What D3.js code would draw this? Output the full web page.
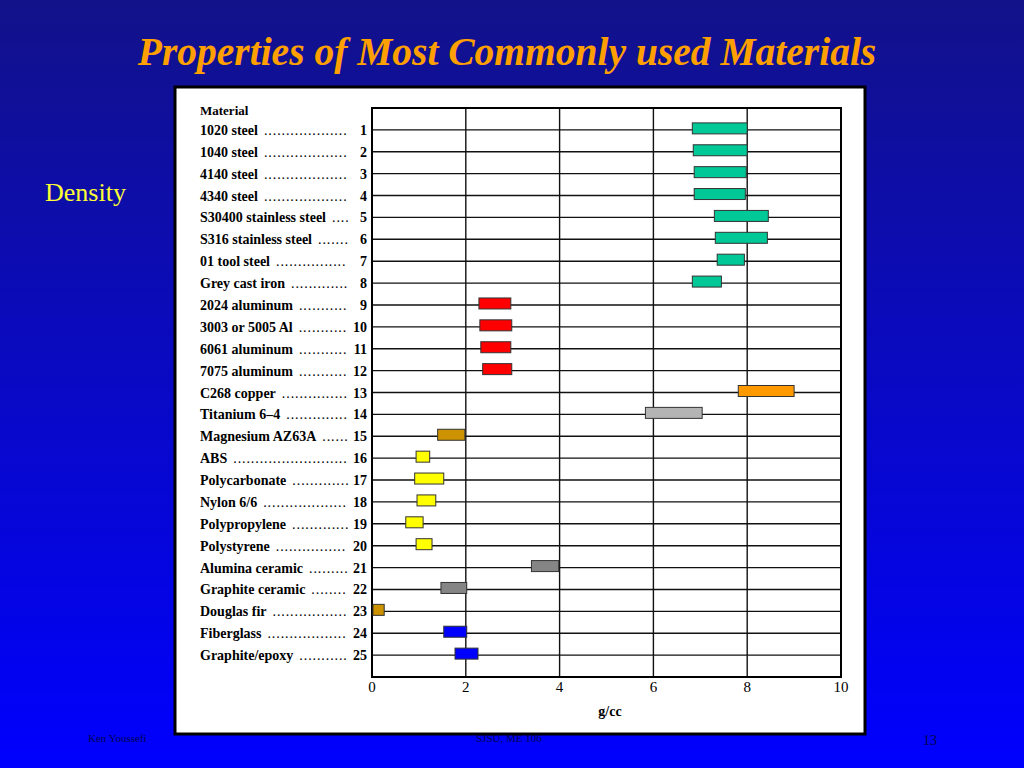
<!DOCTYPE html>
<meta charset="utf-8">
<script src="https://d3js.org/d3.v7.min.js"></script>
<style>
  body { margin: 0; }
  svg { display: block; }
</style>
<div id="my_dataviz"></div>
<script>

  // materials, in chart order (row 1 at the top)
  const materials = [
    "1020 steel", "1040 steel", "4140 steel", "4340 steel",
    "S30400 stainless steel", "S316 stainless steel", "01 tool steel", "Grey cast iron",
    "2024 aluminum", "3003 or 5005 Al", "6061 aluminum", "7075 aluminum",
    "C268 copper", "Titanium 6\u20134", "Magnesium AZ63A", "ABS",
    "Polycarbonate", "Nylon 6/6", "Polypropylene", "Polystyrene",
    "Alumina ceramic", "Graphite ceramic", "Douglas fir", "Fiberglass", "Graphite/epoxy"
  ];
  // density range, g/cc
  const densityLow = [6.83, 6.85, 6.87, 6.87, 7.30, 7.32, 7.36, 6.83,
    2.28, 2.30, 2.32, 2.36, 7.81, 5.83, 1.40, 0.94,
    0.91, 0.96, 0.72, 0.94, 3.40, 1.47, 0.02, 1.53, 1.77];
  const densityHigh = [8.00, 8.00, 7.98, 7.96, 8.45, 8.43, 7.94, 7.45,
    2.96, 2.98, 2.96, 2.98, 9.00, 7.04, 1.98, 1.23,
    1.53, 1.36, 1.09, 1.28, 3.98, 2.02, 0.26, 2.02, 2.26];
  // material family per row
  const family = ["steel", "steel", "steel", "steel", "steel", "steel", "steel", "steel",
    "aluminum", "aluminum", "aluminum", "aluminum", "copper", "titanium", "magnesium", "polymer",
    "polymer", "polymer", "polymer", "polymer", "ceramic", "ceramic", "wood", "composite", "composite"];
  const xTicks = [0, 2, 4, 6, 8, 10];

  const familyColor = {
    steel: "#00c896", aluminum: "#ff0000", copper: "#ff9900", titanium: "#b4b4b4",
    magnesium: "#cc9200", polymer: "#ffff00", ceramic: "#858585", wood: "#cc9200", composite: "#0000ff"
  };

  const W = 1024, H = 768;
  const svg = d3.select("#my_dataviz").append("svg")
    .attr("width", W).attr("height", H);

  // slide background
  const grad = svg.append("defs").append("linearGradient")
    .attr("id", "bg").attr("x1", 0).attr("y1", 0).attr("x2", 0).attr("y2", 1);
  grad.append("stop").attr("offset", "0%").attr("stop-color", "#12128a");
  grad.append("stop").attr("offset", "100%").attr("stop-color", "#0000ff");
  svg.append("rect").attr("width", W).attr("height", H).attr("fill", "url(#bg)");

  svg.append("text")
    .attr("x", 507).attr("y", 65)
    .attr("text-anchor", "middle")
    .attr("font-family", "Liberation Serif, Times New Roman, serif")
    .attr("font-size", 39.5).attr("font-weight", "bold").attr("font-style", "italic")
    .attr("fill", "#ffa000")
    .text("Properties of Most Commonly used Materials");

  svg.append("text")
    .attr("x", 45).attr("y", 201)
    .attr("font-family", "Liberation Serif, Times New Roman, serif")
    .attr("font-size", 26).attr("fill", "#ffff33")
    .text("Density");

  // footer
  const foot = svg.append("g")
    .attr("font-family", "Liberation Serif, Times New Roman, serif")
    .attr("font-size", 11).attr("fill", "#000050");
  foot.append("text").attr("x", 88).attr("y", 742).text("Ken Youssefi");
  foot.append("text").attr("x", 476).attr("y", 742).text("SJSU, ME 106");
  foot.append("text").attr("x", 923).attr("y", 745).attr("font-size", 14).text("13");

  // white picture box
  svg.append("rect")
    .attr("x", 175).attr("y", 87).attr("width", 690).attr("height", 647)
    .attr("fill", "#fff").attr("stroke", "#000").attr("stroke-width", 3);

  // plot
  const x = d3.scaleLinear().domain([0, 10]).range([372, 841]);
  const y = d3.scaleLinear().domain([0, 26]).range([108, 677]);

  const grid = svg.append("g").attr("stroke", "#111").attr("stroke-width", 1.4);
  grid.selectAll("line.h").data(materials).join("line")
    .attr("class", "h")
    .attr("x1", x(0)).attr("x2", x(10))
    .attr("y1", (d, i) => y(i + 1)).attr("y2", (d, i) => y(i + 1));
  grid.selectAll("line.v").data(xTicks.slice(1, -1)).join("line")
    .attr("class", "v")
    .attr("x1", d => x(d)).attr("x2", d => x(d))
    .attr("y1", y(0)).attr("y2", y(26));
  svg.append("rect")
    .attr("x", x(0)).attr("y", y(0))
    .attr("width", x(10) - x(0)).attr("height", y(26) - y(0))
    .attr("fill", "none").attr("stroke", "#000").attr("stroke-width", 2);

  // density bars
  const barH = 11;
  svg.append("g").selectAll("rect").data(materials).join("rect")
    .attr("x", (d, i) => x(densityLow[i]))
    .attr("width", (d, i) => x(densityHigh[i]) - x(densityLow[i]))
    .attr("y", (d, i) => y(i + 1) - barH / 2 - 1.5)
    .attr("height", barH)
    .attr("fill", (d, i) => familyColor[family[i]])
    .attr("stroke", "#333").attr("stroke-width", 1);

  // x axis labels
  const axisG = svg.append("g")
    .attr("font-family", "Liberation Serif, Times New Roman, serif")
    .attr("font-size", 15).attr("fill", "#000").attr("text-anchor", "middle");
  axisG.selectAll("text").data(xTicks).join("text")
    .attr("x", d => x(d)).attr("y", 692)
    .text(d => d);
  axisG.append("text")
    .attr("x", 610).attr("y", 716)
    .attr("font-size", 14).attr("font-weight", "bold")
    .text("g/cc");

  // material labels with dot leaders
  const labels = svg.append("g")
    .attr("font-family", "Liberation Serif, Times New Roman, serif")
    .attr("font-size", 14).attr("font-weight", "bold").attr("fill", "#000");
  labels.append("text")
    .attr("x", 200).attr("y", 115)
    .attr("font-size", 13)
    .text("Material");

  materials.forEach((name, i) => {
    const yy = y(i + 1) + 5;
    const t = labels.append("text").attr("x", 200).attr("y", yy).text(name);
    const end = 200 + t.node().getComputedTextLength();
    const leader = labels.append("text").attr("x", end + 6).attr("y", yy)
      .attr("font-weight", "normal").attr("letter-spacing", 0.9).text(".");
    const dotW = leader.node().getComputedTextLength();
    const n = Math.max(1, Math.floor((350 - end - 6) / dotW));
    leader.text(".".repeat(n));
    labels.append("text")
      .attr("x", 367).attr("y", yy).attr("text-anchor", "end")
      .text(i + 1);
  });

</script>
